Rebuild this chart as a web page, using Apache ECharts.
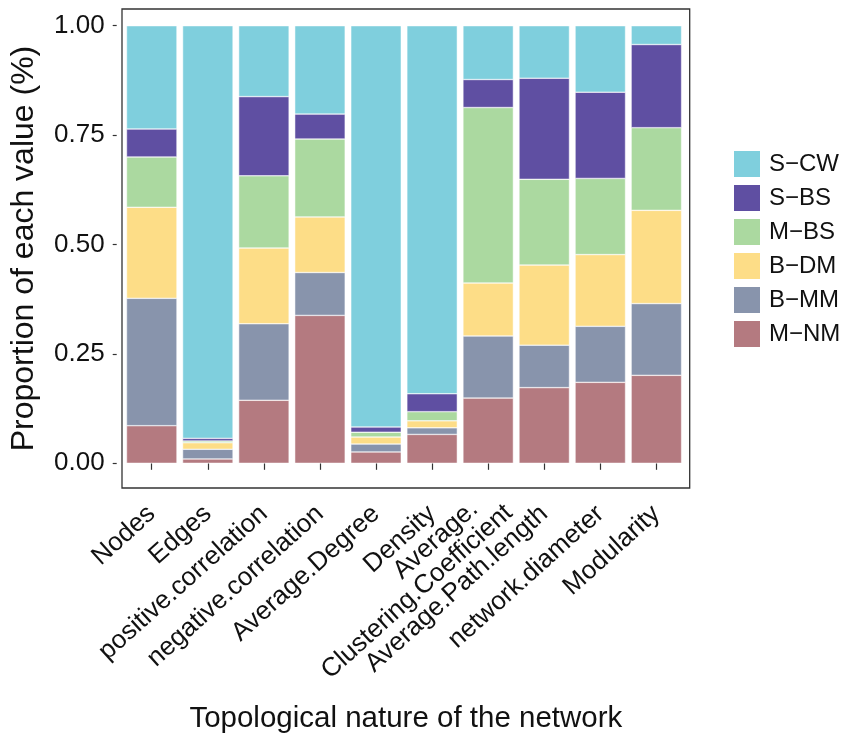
<!DOCTYPE html>
<html>
<head>
<meta charset="utf-8">
<script src="https://cdn.jsdelivr.net/npm/echarts@6/dist/echarts.min.js"></script>
<style>
  html, body { margin: 0; padding: 0; background: #fff; }
  #main { width: 847px; height: 739px; }
</style>
</head>
<body>
<div id="main"></div>
<script>
// categories along x
var categories = ['Nodes', 'Edges', 'positive.correlation', 'negative.correlation',
  'Average.Degree', 'Density', 'Average.\nClustering.Coefficient',
  'Average.Path.length', 'network.diameter', 'Modularity'];

// proportions per group (stacked bottom -> top)
var mNM = [0.086, 0.010, 0.144, 0.338, 0.026, 0.066, 0.149, 0.173, 0.185, 0.201];
var bMM = [0.291, 0.022, 0.175, 0.098, 0.018, 0.015, 0.142, 0.097, 0.128, 0.164];
var bDM = [0.208, 0.015, 0.173, 0.127, 0.016, 0.016, 0.121, 0.183, 0.164, 0.213];
var mBS = [0.115, 0.004, 0.165, 0.178, 0.011, 0.021, 0.401, 0.196, 0.174, 0.189];
var sBS = [0.064, 0.006, 0.181, 0.057, 0.012, 0.041, 0.064, 0.231, 0.197, 0.190];
var sCW = [0.236, 0.943, 0.162, 0.202, 0.917, 0.841, 0.123, 0.120, 0.152, 0.043];

var yTicks = [0, 0.25, 0.5, 0.75, 1];
var legendOrder = ['S\u2212CW', 'S\u2212BS', 'M\u2212BS', 'B\u2212DM', 'B\u2212MM', 'M\u2212NM'];

var font = "'Liberation Sans', Arial, sans-serif";

var myChart = echarts.init(document.getElementById('main'));

function bar(name, data, color) {
  return {
    name: name,
    type: 'bar',
    stack: 'total',
    data: data,
    barCategoryGap: '10%',
    itemStyle: { color: color, borderColor: '#ffffff', borderWidth: 0.5 }
  };
}

// two-line label gets nudged forward a bit (like the original)
var xData = categories.map(function (c) {
  if (c.indexOf('\n') >= 0) {
    return { value: c, textStyle: { padding: [0, -16, 0, 0] } };
  }
  return c;
});

var tickStyle = { fontSize: 26, color: '#111', fontFamily: font, lineHeight: 26 };

var option = {
  backgroundColor: '#fff',
  animation: false,
  textStyle: { fontFamily: font },
  grid: [
    // outer panel frame
    { left: 116.7, top: 9, width: 573, height: 480.3, show: true,
      borderColor: '#333', borderWidth: 1.3, backgroundColor: 'transparent' },
    // data area
    { left: 123.7, top: 25.7, width: 560.7, height: 437.6 }
  ],
  xAxis: [
    {
      type: 'category', gridIndex: 1, data: xData,
      offset: 26,
      axisLine: { show: false },
      axisTick: { show: true, alignWithLabel: true, length: 6.5,
        lineStyle: { color: '#333', width: 1.2 } },
      axisLabel: {
        interval: 0, rotate: 42, margin: 21, align: 'right', verticalAlign: 'middle',
        fontSize: 26, color: '#111', fontFamily: font, lineHeight: 26,
        formatter: function (v) {
          if (v.indexOf('\n') >= 0) {
            var p = v.split('\n');
            return '{l1|' + p[0] + '}\n{l2|' + p[1] + '}';
          }
          return v;
        },
        rich: {
          l1: Object.assign({ padding: [0, 23, 0, 0] }, tickStyle),
          l2: Object.assign({}, tickStyle)
        }
      },
      splitLine: { show: false }
    },
    {
      type: 'value', gridIndex: 0, min: 0, max: 1,
      axisLine: { show: false }, axisTick: { show: false },
      axisLabel: { show: false }, splitLine: { show: false },
      name: 'Topological nature of the network',
      nameLocation: 'middle', nameGap: 216,
      nameTextStyle: { fontSize: 29.5, color: '#111', fontFamily: font }
    }
  ],
  yAxis: [
    {
      type: 'value', gridIndex: 1, min: 0, max: 1, interval: 0.25,
      offset: 7,
      axisLine: { show: false },
      axisTick: { show: true, length: 4, lineStyle: { color: '#333', width: 1.2 } },
      axisLabel: { margin: 12, fontSize: 26, color: '#111', fontFamily: font,
        formatter: function (v) { return v.toFixed(2); } },
      splitLine: { show: false }
    },
    {
      type: 'value', gridIndex: 0, min: 0, max: 1,
      axisLine: { show: false }, axisTick: { show: false },
      axisLabel: { show: false }, splitLine: { show: false },
      name: 'Proportion of each value (%)',
      nameLocation: 'middle', nameGap: 82,
      nameTextStyle: { fontSize: 32, color: '#111', fontFamily: font }
    }
  ],
  legend: {
    data: legendOrder,
    orient: 'vertical',
    left: 732, top: 149,
    padding: 0,
    icon: 'rect',
    itemWidth: 28, itemHeight: 28, itemGap: 4,
    textStyle: { fontSize: 24, color: '#111', fontFamily: font, padding: [0, 0, 0, 3] }
  },
  series: [
    bar('M\u2212NM', mNM, '#b47a80'),
    bar('B\u2212MM', bMM, '#8894ac'),
    bar('B\u2212DM', bDM, '#fddd87'),
    bar('M\u2212BS', mBS, '#abd9a0'),
    bar('S\u2212BS', sBS, '#5f4fa2'),
    bar('S\u2212CW', sCW, '#7fcfdd')
  ]
};

option && myChart.setOption(option);
</script>
</body>
</html>
